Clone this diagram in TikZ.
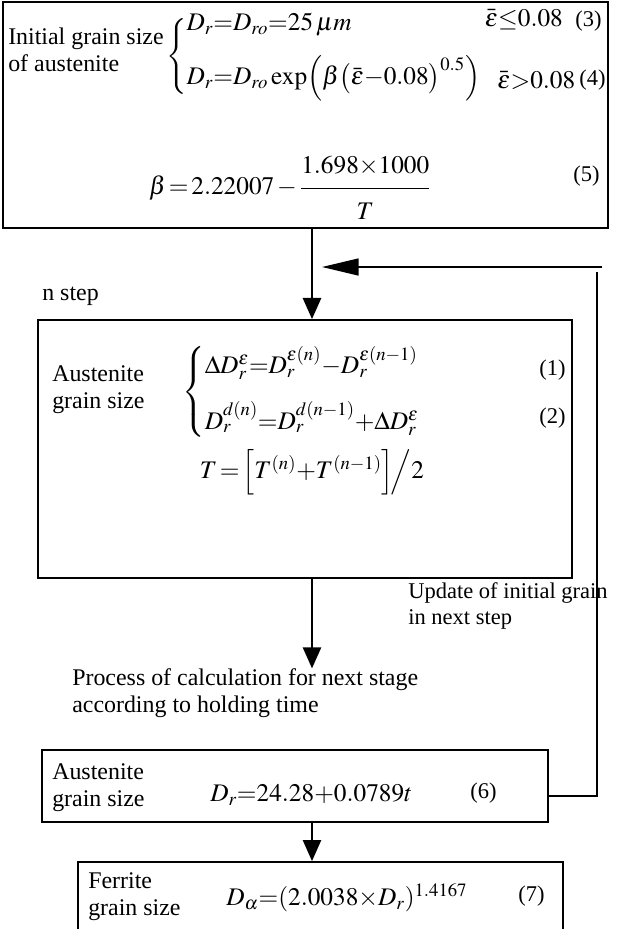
\documentclass[tikz,border=0pt]{standalone}
\usepackage{amsmath}
\usepackage{mathptmx}
\usepackage{fontspec}
\setmainfont{Liberation Serif}
\usepackage{tikz}
\usetikzlibrary{arrows.meta, fit, calc}
\newcommand{\numtag}[1]{{\fontsize{16}{18}\selectfont(#1)}}
\tikzset{
  box/.style={draw, line width=1.3pt, inner sep=0pt},
  lbl/.style={anchor=west, align=left, inner sep=0pt,
    font=\fontsize{17}{19}\selectfont},
  eq/.style={inner sep=0pt, font=\fontsize{18}{20}\selectfont},
  arrow/.style={-{Triangle[length=15pt, width=13pt]}, line width=1.3pt},
  backarrow/.style={-{Triangle[length=26pt, width=12pt]}, line width=1.3pt},
  line/.style={line width=1.3pt}
}

\begin{document}
\begin{tikzpicture}[x=0.025cm, y=-0.025cm]
  \clip (0,0) rectangle (618,929);
  % Boxes
  \node[box, fit={(3,2) (608,228)}] (init) {};
  \node[box, fit={(38,320) (572,578)}] (nstep) {};
  \node[box, fit={(42,750) (548,822)}] (aust) {};
  \node[box, fit={(78,862) (563,950)}] (ferr) {};
  % Initial grain size
  \node[lbl] (initlbl) at (8,50) {Initial grain size\\of austenite};
  \node[eq, anchor=west] (initcases) at (166,56)
    {$\left\{\rule[-22pt]{0pt}{44pt}\smash{\begin{array}{@{}l@{}}
      D_r{=}D_{ro}{=}25\,\mu m\\[12pt]
      D_r{=}D_{ro}\exp\!\Big(\beta\big(\bar{\varepsilon}{-}0.08\big)^{0.5}\Big)
    \end{array}}\right.$};
  \node[eq, anchor=east] (condthree) at (602,20)
    {$\bar{\varepsilon}{\le}0.08$\enspace\numtag{3}};
  \node[eq, anchor=east] (condfour) at (606,80)
    {$\bar{\varepsilon}{>}0.08$\,\raisebox{2pt}{\numtag{4}}};
  \node[eq] (betaeq) at (290,188)
    {$\beta\,{=}\,2.22007\,{-}\,\dfrac{1.698{\times}1000\rule[-8pt]{0pt}{0pt}}{\rule{0pt}{20pt}T}$};
  \node[eq, anchor=east] (eqfive) at (600,176) {\numtag{5}};
  % n step
  \node[lbl] (steplbl) at (42,296) {n step};
  \node[lbl] (nsteplbl) at (52,390) {Austenite\\grain size};
  \node[eq, anchor=west] (stepcases) at (182,392)
    {$\left\{\begin{array}{@{}l@{}}
      \Delta D_r^{\varepsilon}{=}D_r^{\varepsilon(n)}{-}D_r^{\varepsilon(n-1)}\\[14pt]
      D_r^{d(n)}{=}D_r^{d(n-1)}{+}\Delta D_r^{\varepsilon}
    \end{array}\right.$};
  \node[eq, anchor=east] (eqone) at (566,370) {\numtag{1}};
  \node[eq, anchor=east] (eqtwo) at (566,418) {\numtag{2}};
  \node[eq] (tempeq) at (312,472)
    {$T\,{=}\,\Big[T^{(n)}{+}T^{(n-1)}\Big]\!\Big/2$};
  % Labels between boxes
  \node[lbl, font=\fontsize{16}{19}\selectfont] (updlbl) at (408,606)
    {Update of initial grain\\in next step};
  \node[lbl] (proclbl) at (72,693)
    {Process of calculation for next stage\\according to holding time};
  % Austenite grain size
  \node[lbl] (austlbl) at (52,788) {Austenite\\grain size};
  \node[eq, anchor=west] (eqsix) at (210,795) {$D_r{=}24.28{+}0.0789t$};
  \node[eq, anchor=west] (numsix) at (470,793) {\numtag{6}};
  % Ferrite grain size
  \node[lbl] (ferrlbl) at (88,897) {Ferrite\\grain size};
  \node[eq, anchor=west] (eqseven) at (226,898)
    {$D_{\alpha}{=}(2.0038{\times}D_r)^{1.4167}$};
  \node[eq, anchor=west] (numseven) at (518,896) {\numtag{7}};
  % Connectors
  \coordinate (spine) at (312,0);
  \coordinate (fbhead) at (602,267);
  \coordinate (fbtip) at (322,267);
  \coordinate (fbtop) at (597,272);
  \coordinate (fbjoin) at (597,796);
  \draw[arrow] (init.south -| spine) -- (nstep.north -| spine);
  \draw[arrow] (nstep.south -| spine) -- (proclbl.north -| spine);
  \draw[arrow] (aust.south -| spine) -- (ferr.north -| spine);
  \draw[backarrow] (fbhead) -- (fbtip);
  \draw[line] (aust.east |- fbjoin) -- (fbjoin) -- (fbtop);
\end{tikzpicture}
\end{document}
